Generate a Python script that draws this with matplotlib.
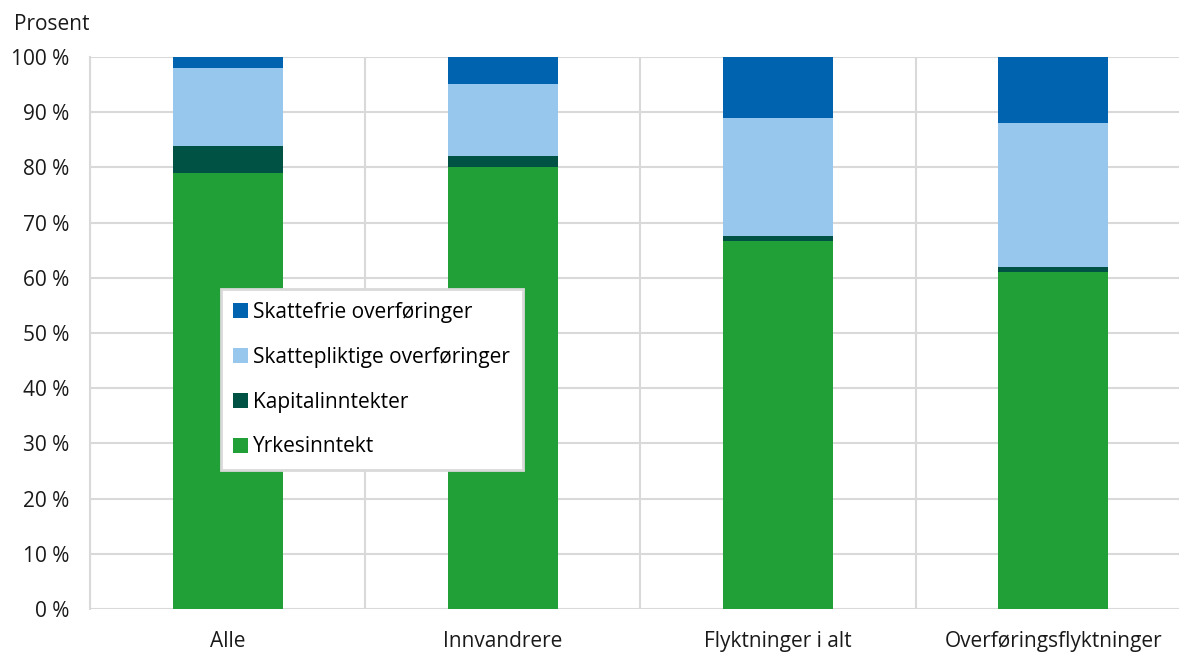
import numpy as np
import matplotlib
matplotlib.use('Agg')
import matplotlib.pyplot as plt

plt.rcParams['font.family'] = ['Open Sans', 'DejaVu Sans']

# ===== Data (prosent) =====
groups = ['Alle', 'Innvandrere', 'Flyktninger i alt', 'Overføringsflyktninger']
yrkes = [79.0, 80.1, 66.7, 61.0]
kapital = [4.9, 1.9, 0.9, 0.9]
skattepl = [14.1, 13.1, 21.3, 26.1]
skattefrie = [2.0, 4.9, 11.1, 12.0]

series = [
    ('Yrkesinntekt', yrkes, '#21A038'),
    ('Kapitalinntekter', kapital, '#005344'),
    ('Skattepliktige overføringer', skattepl, '#97C7EC'),
    ('Skattefrie overføringer', skattefrie, '#0063AF'),
]

fig = plt.figure(figsize=(11.79, 6.53), dpi=100)
# plottet går litt ut over høyre kant, som i originalen
ax = fig.add_axes([90/1179, 1 - 609/653, 1101/1179, 552/653])

x = np.arange(len(groups))
bottom = np.zeros(len(groups))
handles = []
for name, vals, col in series:
    b = ax.bar(x, vals, width=0.4, bottom=bottom, color=col, label=name, zorder=3)
    handles.append(b)
    bottom += np.array(vals)

ax.set_xlim(-0.5, len(groups) - 0.5)
ax.set_ylim(0, 100)
ax.set_yticks(range(0, 101, 10))
ax.set_yticklabels([f'{v} %' for v in range(0, 101, 10)], fontsize=15, color='#1a1a1a')
ax.set_xticks(x)
ax.set_xticklabels(groups, fontsize=15, color='#1a1a1a')
ax.tick_params(axis='y', length=0, pad=15)
ax.tick_params(axis='x', length=0, pad=16)

# rutenett
ax.grid(axis='y', color='#D9D9D9', linewidth=1.5, zorder=0)
ax.set_xticks(np.arange(-0.5, len(groups)), minor=True)
ax.grid(axis='x', which='minor', color='#D9D9D9', linewidth=1.5, zorder=0)
ax.tick_params(which='minor', length=0)
for s in ['top', 'right', 'bottom']:
    ax.spines[s].set_visible(False)
ax.spines['left'].set_color('#D9D9D9')
ax.spines['left'].set_linewidth(1.5)

fig.text(14/1179, 1 - 25/653, 'Prosent', fontsize=15, color='#1a1a1a', ha='left', va='center')

leg = ax.legend(handles[::-1], [s[0] for s in series][::-1],
                loc='lower left', bbox_to_anchor=(131/1101, 139/552),
                fontsize=15, frameon=True, fancybox=False, edgecolor='#D9D9D9',
                framealpha=1, handlelength=0.7, handleheight=0.7, labelspacing=1.15,
                borderpad=0.6, handletextpad=0.25, borderaxespad=0)
leg.get_frame().set_linewidth(2)
leg.set_zorder(5)

plt.savefig('out.png', dpi=100)
